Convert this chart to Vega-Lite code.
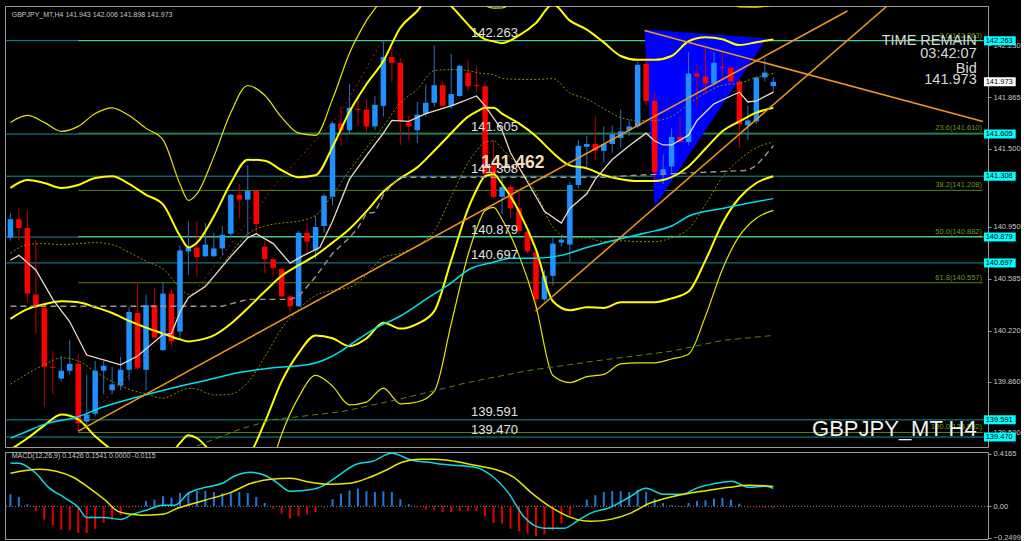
{
"$schema":"https://vega.github.io/schema/vega-lite/v6.json",
"background":"#000000",
"padding":{"left":4,"top":5,"right":0,"bottom":0},
"autosize":{"type":"pad"},
"bounds":"flush",
"spacing":5,
"config":{"view":{"stroke":"#9a9a9a","strokeWidth":1},"font":"Liberation Sans",
 "axis":{"labelColor":"#c8c8c8","labelFontSize":7.5,"labelFont":"Liberation Sans","domain":false,"ticks":true,"tickSize":3,"tickColor":"#9a9a9a","labelPadding":2,"grid":false,"labelOverlap":false,"labelFlush":false,"labelBaseline":"middle","zindex":1}},
"datasets":{
"candles":[
{"i":0,"o":140.875,"h":141.046,"l":140.854,"c":141.005},
{"i":1,"o":141.005,"h":141.081,"l":140.854,"c":140.943},
{"i":2,"o":140.943,"h":141.067,"l":140.419,"c":140.481},
{"i":3,"o":140.474,"h":140.861,"l":140.199,"c":140.385},
{"i":4,"o":140.378,"h":140.426,"l":139.683,"c":139.965},
{"i":5,"o":139.965,"h":140.075,"l":139.772,"c":139.958},
{"i":6,"o":139.882,"h":140.041,"l":139.862,"c":139.937},
{"i":7,"o":139.937,"h":140.151,"l":139.910,"c":139.986},
{"i":8,"o":139.986,"h":140.055,"l":139.502,"c":139.566},
{"i":9,"o":139.579,"h":139.910,"l":139.531,"c":139.628},
{"i":10,"o":139.635,"h":140.006,"l":139.614,"c":139.937},
{"i":11,"o":139.937,"h":140.006,"l":139.772,"c":139.972},
{"i":12,"o":139.800,"h":139.965,"l":139.772,"c":139.841},
{"i":13,"o":139.834,"h":140.034,"l":139.800,"c":139.944},
{"i":14,"o":139.944,"h":140.385,"l":139.869,"c":140.351},
{"i":15,"o":140.344,"h":140.564,"l":139.944,"c":139.958},
{"i":16,"o":139.944,"h":140.474,"l":139.800,"c":140.399},
{"i":17,"o":140.399,"h":140.523,"l":140.165,"c":140.172},
{"i":18,"o":140.082,"h":140.557,"l":140.075,"c":140.481},
{"i":19,"o":140.481,"h":140.509,"l":140.110,"c":140.144},
{"i":20,"o":140.213,"h":140.819,"l":140.165,"c":140.785},
{"i":21,"o":140.778,"h":140.991,"l":140.613,"c":140.805},
{"i":22,"o":140.805,"h":140.991,"l":140.599,"c":140.737},
{"i":23,"o":140.744,"h":140.978,"l":140.737,"c":140.826},
{"i":24,"o":140.744,"h":140.910,"l":140.737,"c":140.799},
{"i":25,"o":140.799,"h":140.957,"l":140.750,"c":140.895},
{"i":26,"o":140.902,"h":141.184,"l":140.875,"c":141.177},
{"i":27,"o":141.177,"h":141.253,"l":141.012,"c":141.143},
{"i":28,"o":141.143,"h":141.384,"l":140.867,"c":141.205},
{"i":29,"o":141.205,"h":141.212,"l":140.902,"c":140.971},
{"i":30,"o":140.812,"h":140.854,"l":140.626,"c":140.723},
{"i":31,"o":140.723,"h":140.737,"l":140.599,"c":140.661},
{"i":32,"o":140.654,"h":140.668,"l":140.454,"c":140.461},
{"i":33,"o":140.461,"h":140.468,"l":140.351,"c":140.392},
{"i":34,"o":140.392,"h":140.922,"l":140.385,"c":140.909},
{"i":35,"o":140.909,"h":140.978,"l":140.764,"c":140.847},
{"i":36,"o":140.785,"h":141.026,"l":140.723,"c":140.950},
{"i":37,"o":140.957,"h":141.184,"l":140.909,"c":141.170},
{"i":38,"o":141.163,"h":141.694,"l":141.101,"c":141.680},
{"i":39,"o":141.680,"h":141.797,"l":141.522,"c":141.632},
{"i":40,"o":141.632,"h":141.955,"l":141.611,"c":141.790},
{"i":41,"o":141.783,"h":141.873,"l":141.659,"c":141.776},
{"i":42,"o":141.776,"h":141.852,"l":141.611,"c":141.659},
{"i":43,"o":141.659,"h":141.873,"l":141.632,"c":141.811},
{"i":44,"o":141.804,"h":142.263,"l":141.728,"c":142.148},
{"i":45,"o":142.148,"h":142.210,"l":141.976,"c":142.107},
{"i":46,"o":142.107,"h":142.141,"l":141.528,"c":141.694},
{"i":47,"o":141.687,"h":141.735,"l":141.563,"c":141.659},
{"i":48,"o":141.632,"h":141.831,"l":141.542,"c":141.742},
{"i":49,"o":141.749,"h":141.955,"l":141.728,"c":141.825},
{"i":50,"o":141.825,"h":142.231,"l":141.797,"c":141.949},
{"i":51,"o":141.949,"h":141.976,"l":141.797,"c":141.804},
{"i":52,"o":141.804,"h":142.169,"l":141.783,"c":141.887},
{"i":53,"o":141.873,"h":142.093,"l":141.866,"c":142.086},
{"i":54,"o":142.038,"h":142.128,"l":141.907,"c":141.942},
{"i":55,"o":141.949,"h":142.086,"l":141.900,"c":141.942},
{"i":56,"o":141.942,"h":141.969,"l":141.301,"c":141.322},
{"i":57,"o":141.384,"h":141.563,"l":141.150,"c":141.163},
{"i":58,"o":141.163,"h":141.301,"l":141.040,"c":141.232},
{"i":59,"o":141.232,"h":141.246,"l":141.012,"c":141.081},
{"i":60,"o":141.081,"h":141.198,"l":140.902,"c":140.922},
{"i":61,"o":140.916,"h":140.936,"l":140.764,"c":140.778},
{"i":62,"o":140.771,"h":140.799,"l":140.351,"c":140.440},
{"i":63,"o":140.440,"h":140.647,"l":140.426,"c":140.606},
{"i":64,"o":140.606,"h":140.881,"l":140.537,"c":140.833},
{"i":65,"o":140.840,"h":140.881,"l":140.812,"c":140.861},
{"i":66,"o":140.826,"h":141.267,"l":140.702,"c":141.246},
{"i":67,"o":141.246,"h":141.563,"l":141.219,"c":141.522},
{"i":68,"o":141.515,"h":141.590,"l":141.356,"c":141.535},
{"i":69,"o":141.535,"h":141.728,"l":141.418,"c":141.487},
{"i":70,"o":141.487,"h":141.659,"l":141.405,"c":141.535},
{"i":71,"o":141.535,"h":141.666,"l":141.473,"c":141.604},
{"i":72,"o":141.577,"h":141.776,"l":141.508,"c":141.625},
{"i":73,"o":141.632,"h":141.701,"l":141.590,"c":141.659},
{"i":74,"o":141.659,"h":142.114,"l":141.646,"c":142.093},
{"i":75,"o":142.100,"h":142.141,"l":141.804,"c":141.838},
{"i":76,"o":141.838,"h":141.907,"l":141.281,"c":141.336},
{"i":77,"o":141.329,"h":141.460,"l":141.253,"c":141.356},
{"i":78,"o":141.377,"h":141.646,"l":141.336,"c":141.584},
{"i":79,"o":141.584,"h":141.735,"l":141.542,"c":141.549},
{"i":80,"o":141.549,"h":142.183,"l":141.528,"c":142.031},
{"i":81,"o":142.031,"h":142.093,"l":141.804,"c":142.011},
{"i":82,"o":142.011,"h":142.210,"l":141.887,"c":141.962},
{"i":83,"o":141.962,"h":142.183,"l":141.942,"c":142.107},
{"i":84,"o":142.079,"h":142.176,"l":141.990,"c":142.072},
{"i":85,"o":142.072,"h":142.079,"l":141.976,"c":141.976},
{"i":86,"o":141.976,"h":141.990,"l":141.508,"c":141.673},
{"i":87,"o":141.666,"h":141.804,"l":141.563,"c":141.701},
{"i":88,"o":141.694,"h":142.011,"l":141.673,"c":142.004},
{"i":89,"o":142.004,"h":142.141,"l":141.976,"c":142.038},
{"i":90,"o":141.943,"h":142.006,"l":141.898,"c":141.973}
],
"bb":[
{"i":0,"m":140.303,"u1":140.764,"l1":139.842,"u2":141.225,"l2":139.381,"u3":141.686,"l3":138.920},
{"i":2,"m":140.371,"u1":140.826,"l1":139.916,"u2":141.281,"l2":139.461,"u3":141.736,"l3":139.006},
{"i":4,"m":140.406,"u1":140.833,"l1":139.979,"u2":141.260,"l2":139.552,"u3":141.687,"l3":139.125},
{"i":6,"m":140.427,"u1":140.826,"l1":140.028,"u2":141.225,"l2":139.629,"u3":141.624,"l3":139.230},
{"i":8,"m":140.420,"u1":140.833,"l1":140.007,"u2":141.246,"l2":139.594,"u3":141.659,"l3":139.181},
{"i":10,"m":140.385,"u1":140.840,"l1":139.930,"u2":141.295,"l2":139.475,"u3":141.750,"l3":139.020},
{"i":12,"m":140.344,"u1":140.826,"l1":139.862,"u2":141.308,"l2":139.380,"u3":141.790,"l3":138.898},
{"i":14,"m":140.289,"u1":140.771,"l1":139.807,"u2":141.253,"l2":139.325,"u3":141.735,"l3":138.843},
{"i":16,"m":140.241,"u1":140.709,"l1":139.773,"u2":141.177,"l2":139.305,"u3":141.645,"l3":138.837},
{"i":18,"m":140.199,"u1":140.654,"l1":139.744,"u2":141.109,"l2":139.289,"u3":141.564,"l3":138.834},
{"i":20,"m":140.158,"u1":140.523,"l1":139.793,"u2":140.888,"l2":139.428,"u3":141.253,"l3":139.063},
{"i":21,"m":140.144,"u1":140.475,"l1":139.813,"u2":140.806,"l2":139.482,"u3":141.137,"l3":139.151},
{"i":22,"m":140.151,"u1":140.495,"l1":139.807,"u2":140.839,"l2":139.463,"u3":141.183,"l3":139.119},
{"i":24,"m":140.186,"u1":140.606,"l1":139.766,"u2":141.026,"l2":139.346,"u3":141.446,"l3":138.926},
{"i":26,"m":140.268,"u1":140.764,"l1":139.772,"u2":141.260,"l2":139.276,"u3":141.756,"l3":138.780},
{"i":28,"m":140.378,"u1":140.901,"l1":139.855,"u2":141.424,"l2":139.332,"u3":141.947,"l3":138.809},
{"i":30,"m":140.495,"u1":140.956,"l1":140.034,"u2":141.417,"l2":139.573,"u3":141.878,"l3":139.112},
{"i":32,"m":140.606,"u1":140.978,"l1":140.234,"u2":141.350,"l2":139.862,"u3":141.722,"l3":139.490},
{"i":34,"m":140.681,"u1":140.991,"l1":140.371,"u2":141.301,"l2":140.061,"u3":141.611,"l3":139.751},
{"i":36,"m":140.750,"u1":141.032,"l1":140.468,"u2":141.314,"l2":140.186,"u3":141.596,"l3":139.904},
{"i":38,"m":140.840,"u1":141.177,"l1":140.503,"u2":141.514,"l2":140.166,"u3":141.851,"l3":139.829},
{"i":40,"m":140.936,"u1":141.349,"l1":140.523,"u2":141.762,"l2":140.110,"u3":142.175,"l3":139.697},
{"i":42,"m":141.060,"u1":141.508,"l1":140.612,"u2":141.956,"l2":140.164,"u3":142.404,"l3":139.716},
{"i":44,"m":141.198,"u1":141.659,"l1":140.737,"u2":142.120,"l2":140.276,"u3":142.581,"l3":139.815},
{"i":46,"m":141.294,"u1":141.824,"l1":140.764,"u2":142.354,"l2":140.234,"u3":142.884,"l3":139.704},
{"i":48,"m":141.370,"u1":141.921,"l1":140.819,"u2":142.472,"l2":140.268,"u3":143.023,"l3":139.717},
{"i":50,"m":141.487,"u1":142.052,"l1":140.922,"u2":142.617,"l2":140.357,"u3":143.182,"l3":139.792},
{"i":52,"m":141.611,"u1":142.059,"l1":141.163,"u2":142.507,"l2":140.715,"u3":142.955,"l3":140.267},
{"i":54,"m":141.728,"u1":142.052,"l1":141.404,"u2":142.376,"l2":141.080,"u3":142.700,"l3":140.756},
{"i":55,"m":141.763,"u1":142.038,"l1":141.488,"u2":142.313,"l2":141.213,"u3":142.588,"l3":140.938},
{"i":56,"m":141.790,"u1":142.031,"l1":141.549,"u2":142.272,"l2":141.308,"u3":142.513,"l3":141.067},
{"i":57,"m":141.790,"u1":142.024,"l1":141.556,"u2":142.258,"l2":141.322,"u3":142.492,"l3":141.088},
{"i":58,"m":141.749,"u1":141.997,"l1":141.501,"u2":142.245,"l2":141.253,"u3":142.493,"l3":141.005},
{"i":60,"m":141.680,"u1":141.990,"l1":141.370,"u2":142.300,"l2":141.060,"u3":142.610,"l3":140.750},
{"i":62,"m":141.590,"u1":141.989,"l1":141.191,"u2":142.388,"l2":140.792,"u3":142.787,"l3":140.393},
{"i":64,"m":141.473,"u1":141.996,"l1":140.950,"u2":142.519,"l2":140.427,"u3":143.042,"l3":139.904},
{"i":66,"m":141.384,"u1":141.894,"l1":140.874,"u2":142.404,"l2":140.364,"u3":142.914,"l3":139.854},
{"i":68,"m":141.363,"u1":141.852,"l1":140.874,"u2":142.341,"l2":140.385,"u3":142.830,"l3":139.896},
{"i":70,"m":141.315,"u1":141.783,"l1":140.847,"u2":142.251,"l2":140.379,"u3":142.719,"l3":139.911},
{"i":72,"m":141.287,"u1":141.721,"l1":140.853,"u2":142.155,"l2":140.419,"u3":142.589,"l3":139.985},
{"i":74,"m":141.274,"u1":141.701,"l1":140.847,"u2":142.128,"l2":140.420,"u3":142.555,"l3":139.993},
{"i":76,"m":141.274,"u1":141.701,"l1":140.847,"u2":142.128,"l2":140.420,"u3":142.555,"l3":139.993},
{"i":78,"m":141.301,"u1":141.728,"l1":140.874,"u2":142.155,"l2":140.447,"u3":142.582,"l3":140.020},
{"i":80,"m":141.377,"u1":141.818,"l1":140.936,"u2":142.259,"l2":140.495,"u3":142.700,"l3":140.054},
{"i":82,"m":141.501,"u1":141.894,"l1":141.108,"u2":142.287,"l2":140.715,"u3":142.680,"l3":140.322},
{"i":84,"m":141.625,"u1":141.949,"l1":141.301,"u2":142.273,"l2":140.977,"u3":142.597,"l3":140.653},
{"i":86,"m":141.694,"u1":141.963,"l1":141.425,"u2":142.232,"l2":141.156,"u3":142.501,"l3":140.887},
{"i":88,"m":141.756,"u1":142.004,"l1":141.508,"u2":142.252,"l2":141.260,"u3":142.500,"l3":141.012},
{"i":90,"m":141.790,"u1":142.031,"l1":141.549,"u2":142.272,"l2":141.308,"u3":142.513,"l3":141.067}
],
"wma":[{"i":0,"v":140.716},{"i":1,"v":140.750},{"i":3,"v":140.647},{"i":5,"v":140.440},{"i":7,"v":140.282},{"i":9,"v":140.048},{"i":11,"v":140.013},{"i":13,"v":139.979},{"i":15,"v":140.041},{"i":18,"v":140.192},{"i":19,"v":140.199},{"i":20,"v":140.351},{"i":21,"v":140.454},{"i":23,"v":140.530},{"i":26,"v":140.743},{"i":28,"v":140.874},{"i":29,"v":140.902},{"i":31,"v":140.833},{"i":33,"v":140.695},{"i":34.6,"v":140.750},{"i":36.5,"v":140.805},{"i":38,"v":140.991},{"i":40,"v":141.287},{"i":42,"v":141.453},{"i":44,"v":141.611},{"i":45,"v":141.701},{"i":47,"v":141.694},{"i":49,"v":141.749},{"i":52,"v":141.804},{"i":55,"v":141.873},{"i":56,"v":141.804},{"i":58,"v":141.632},{"i":59,"v":141.473},{"i":61,"v":141.267},{"i":63,"v":141.060},{"i":65,"v":140.978},{"i":66,"v":141.081},{"i":68,"v":141.184},{"i":69,"v":141.287},{"i":71,"v":141.425},{"i":73,"v":141.522},{"i":75,"v":141.611},{"i":76,"v":141.556},{"i":77,"v":141.528},{"i":78,"v":141.528},{"i":80,"v":141.597},{"i":81,"v":141.701},{"i":83,"v":141.818},{"i":85,"v":141.873},{"i":86,"v":141.900},{"i":87,"v":141.831},{"i":88,"v":141.838},{"i":90,"v":141.900}],
"cma":[{"i":0,"v":139.462},{"i":2,"v":139.511},{"i":4,"v":139.559},{"i":8,"v":139.614},{"i":11,"v":139.683},{"i":15,"v":139.752},{"i":19,"v":139.814},{"i":23,"v":139.869},{"i":27,"v":139.924},{"i":31,"v":139.958},{"i":35,"v":139.979},{"i":37,"v":140.013},{"i":39,"v":140.075},{"i":40,"v":140.117},{"i":43,"v":140.234},{"i":46,"v":140.323},{"i":49,"v":140.440},{"i":52,"v":140.557},{"i":54,"v":140.647},{"i":57,"v":140.702},{"i":59,"v":140.730},{"i":62,"v":140.730},{"i":65,"v":140.750},{"i":68,"v":140.805},{"i":72,"v":140.867},{"i":75,"v":140.909},{"i":78,"v":140.957},{"i":80,"v":141.026},{"i":84,"v":141.081},{"i":90,"v":141.150}],
"gma":[{"i":22,"v":139.407},{"i":27,"v":139.524},{"i":31,"v":139.593},{"i":39,"v":139.648},{"i":46,"v":139.738},{"i":54,"v":139.855},{"i":61,"v":139.938},{"i":69,"v":140.006},{"i":78,"v":140.075},{"i":84,"v":140.151},{"i":90,"v":140.186}],
"kij":[{"i":0,"v":140.392},{"i":25,"v":140.392},{"i":28,"v":140.440},{"i":33,"v":140.440},{"i":34,"v":140.461},{"i":36,"v":140.599},{"i":38,"v":140.764},{"i":40,"v":140.874},{"i":41,"v":140.943},{"i":42,"v":141.046},{"i":43,"v":141.053},{"i":44,"v":141.177},{"i":45,"v":141.246},{"i":46,"v":141.301},{"i":70,"v":141.301},{"i":74,"v":141.315},{"i":87,"v":141.349},{"i":88,"v":141.384},{"i":89,"v":141.450},{"i":90,"v":141.522}],
"rdot":[{"i":8.5,"v":139.566},{"i":15.9,"v":140.027},{"i":21.7,"v":140.488},{"i":31.4,"v":141.260},{"i":38.9,"v":141.749},{"i":43.9,"v":142.265}],
"trend":[{"line":"a","i":8.01,"v":139.511},{"line":"a","i":98.74,"v":142.472},{"line":"b","i":61.96,"v":140.358},{"line":"b","i":103.4,"v":142.506},{"line":"c","i":74.8,"v":142.334},{"line":"c","i":114.74,"v":141.694}],
"tri":[{"i":74.8,"top":142.341,"bot":142.341},{"i":76.0,"top":142.336,"bot":141.095},{"i":89.2,"top":142.279,"bot":142.279}],
"levels":[{"p":142.263,"t":"142.263"},{"p":141.605,"t":"141.605"},{"p":141.308,"t":"141.308"},{"p":140.879,"t":"140.879"},{"p":140.697,"t":"140.697"},{"p":139.591,"t":"139.591"},{"p":139.470,"t":"139.470"}],
"fib":[{"p":142.263,"t":"0.0(142.263)","g":"a"},{"p":141.611,"t":"23.6(141.610)","g":"b"},{"p":141.208,"t":"38.2(141.208)","g":"c"},{"p":140.882,"t":"50.0(140.882)","g":"a"},{"p":140.557,"t":"61.8(140.557)","g":"c"},{"p":139.502,"t":"100.0(139.502)","g":"c"}],
"info":[{"p":142.258,"t":"TIME REMAIN"},{"p":142.169,"t":"03:42:07"},{"p":142.066,"t":"Bid"},{"p":141.983,"t":"141.973"}],
"hist":[{"i":0,"h":0.096},{"i":1,"h":0.074},{"i":2,"h":0.016},{"i":3,"h":-0.037},{"i":4,"h":-0.106},{"i":5,"h":-0.151},{"i":6,"h":-0.186},{"i":7,"h":-0.191},{"i":8,"h":-0.212},{"i":9,"h":-0.212},{"i":10,"h":-0.178},{"i":11,"h":-0.133},{"i":12,"h":-0.106},{"i":13,"h":-0.072},{"i":14,"h":-0.011},{"i":15,"h":-0.005},{"i":16,"h":0.042},{"i":17,"h":0.053},{"i":18,"h":0.080},{"i":19,"h":0.069},{"i":20,"h":0.106},{"i":21,"h":0.114},{"i":22,"h":0.122},{"i":23,"h":0.122},{"i":24,"h":0.114},{"i":25,"h":0.106},{"i":26,"h":0.114},{"i":27,"h":0.114},{"i":28,"h":0.106},{"i":29,"h":0.074},{"i":30,"h":0.026},{"i":31,"h":-0.019},{"i":32,"h":-0.058},{"i":33,"h":-0.098},{"i":34,"h":-0.080},{"i":35,"h":-0.064},{"i":36,"h":-0.045},{"i":37,"h":-0.011},{"i":38,"h":0.056},{"i":39,"h":0.101},{"i":40,"h":0.127},{"i":41,"h":0.141},{"i":42,"h":0.122},{"i":43,"h":0.114},{"i":44,"h":0.119},{"i":45,"h":0.114},{"i":46,"h":0.056},{"i":47,"h":0.016},{"i":48,"h":-0.011},{"i":49,"h":-0.027},{"i":50,"h":-0.032},{"i":51,"h":-0.045},{"i":52,"h":-0.045},{"i":53,"h":-0.037},{"i":54,"h":-0.037},{"i":55,"h":-0.037},{"i":56,"h":-0.080},{"i":57,"h":-0.133},{"i":58,"h":-0.138},{"i":59,"h":-0.178},{"i":60,"h":-0.197},{"i":61,"h":-0.217},{"i":62,"h":-0.239},{"i":63,"h":-0.223},{"i":64,"h":-0.191},{"i":65,"h":-0.138},{"i":66,"h":-0.072},{"i":67,"h":-0.005},{"i":68,"h":0.053},{"i":69,"h":0.088},{"i":70,"h":0.114},{"i":71,"h":0.122},{"i":72,"h":0.122},{"i":73,"h":0.114},{"i":74,"h":0.133},{"i":75,"h":0.114},{"i":76,"h":0.061},{"i":77,"h":0.026},{"i":78,"h":0.008},{"i":79,"h":-0.005},{"i":80,"h":0.026},{"i":81,"h":0.042},{"i":82,"h":0.048},{"i":83,"h":0.061},{"i":84,"h":0.066},{"i":85,"h":0.053},{"i":86,"h":0.021},{"i":87,"h":-0.011},{"i":88,"h":-0.011},{"i":89,"h":-0.011},{"i":90,"h":-0.0115}],
"macd":[{"i":0,"v":0.345},{"i":1,"v":0.342},{"i":3,"v":0.263},{"i":4.5,"v":0.151},{"i":6.5,"v":0.064},{"i":8,"v":-0.008},{"i":9,"v":-0.088},{"i":11,"v":-0.088},{"i":13,"v":-0.104},{"i":14.4,"v":-0.064},{"i":16,"v":-0.032},{"i":18,"v":0.008},{"i":19.4,"v":0.008},{"i":21,"v":0.104},{"i":23,"v":0.151},{"i":25,"v":0.183},{"i":26.4,"v":0.239},{"i":28.4,"v":0.271},{"i":30,"v":0.247},{"i":31.4,"v":0.191},{"i":33,"v":0.119},{"i":35.7,"v":0.135},{"i":37,"v":0.167},{"i":38.4,"v":0.231},{"i":40.8,"v":0.334},{"i":42.7,"v":0.358},{"i":45,"v":0.422},{"i":47.4,"v":0.366},{"i":49.4,"v":0.350},{"i":51,"v":0.334},{"i":52.4,"v":0.326},{"i":54.8,"v":0.311},{"i":56.7,"v":0.247},{"i":58.7,"v":0.111},{"i":60.6,"v":-0.085},{"i":63,"v":-0.175},{"i":65.3,"v":-0.175},{"i":67,"v":-0.111},{"i":68.4,"v":-0.056},{"i":70.8,"v":-0.008},{"i":73,"v":0.072},{"i":75,"v":0.143},{"i":77,"v":0.096},{"i":79.3,"v":0.096},{"i":80.9,"v":0.143},{"i":84,"v":0.191},{"i":85.1,"v":0.199},{"i":87.1,"v":0.151},{"i":89.1,"v":0.159},{"i":90,"v":0.143}],
"sig":[{"i":0,"v":0.263},{"i":2,"v":0.287},{"i":3.4,"v":0.295},{"i":5.4,"v":0.279},{"i":7.4,"v":0.231},{"i":9.2,"v":0.151},{"i":11.2,"v":0.048},{"i":12.7,"v":-0.040},{"i":14.4,"v":-0.064},{"i":15.5,"v":-0.072},{"i":17.9,"v":-0.064},{"i":19.7,"v":-0.016},{"i":22.9,"v":0.048},{"i":26,"v":0.111},{"i":28.4,"v":0.183},{"i":30.7,"v":0.215},{"i":33,"v":0.223},{"i":35.4,"v":0.191},{"i":37.7,"v":0.175},{"i":40,"v":0.183},{"i":42.4,"v":0.231},{"i":44.3,"v":0.287},{"i":46.2,"v":0.350},{"i":48.2,"v":0.374},{"i":50.1,"v":0.374},{"i":52.4,"v":0.358},{"i":54.8,"v":0.326},{"i":57.1,"v":0.295},{"i":59.4,"v":0.231},{"i":61.4,"v":0.111},{"i":63.8,"v":-0.008},{"i":66.1,"v":-0.088},{"i":68.4,"v":-0.119},{"i":70.8,"v":-0.104},{"i":73.1,"v":-0.056},{"i":75.4,"v":0.024},{"i":77.8,"v":0.072},{"i":80.1,"v":0.104},{"i":82.4,"v":0.127},{"i":84.8,"v":0.151},{"i":87.1,"v":0.167},{"i":90,"v":0.158}]
},
"vconcat":[
{
"width":983,"height":441,
"layer":[
{"data":{"name":"levels"},"mark":{"type":"rule","color":"#16909a","strokeWidth":1,"clip":true},
 "encoding":{"y":{"field":"p","type":"quantitative","title":null,"scale":{"domain":[139.435,142.472],"nice":false,"zero":false},
 "axis":{"orient":"right","title":null,"values":[142.41,142.23,142.045,141.865,141.68,141.5,141.135,140.95,140.77,140.585,140.4,140.22,140.04,139.86,139.68,139.5],"format":".3f","labelOverlap":false,"labelFlush":false,"labelSeparation":0}}}},
{"data":{"name":"fib"},"mark":{"type":"rule","strokeWidth":1,"clip":true},
 "encoding":{"x":{"datum":8.01,"type":"quantitative","scale":{"domain":[-0.05,114.74],"nice":false,"zero":false},"axis":null},"x2":{"datum":114.74},
 "y":{"field":"p","type":"quantitative","title":null,"scale":{"domain":[139.435,142.472],"nice":false,"zero":false}},
 "color":{"field":"g","type":"nominal","scale":{"domain":["a","b","c"],"range":["#55e08a","#3c9a3c","#5a8010"]},"legend":null}}},
{"data":{"name":"tri"},"mark":{"type":"area","color":"#0000ff","opacity":1,"clip":true},
 "encoding":{"x":{"field":"i","type":"quantitative","scale":{"domain":[-0.05,114.74],"nice":false,"zero":false},"axis":null},
 "y":{"field":"top","type":"quantitative","title":null,"scale":{"domain":[139.435,142.472],"nice":false,"zero":false}},"y2":{"field":"bot"}}},
{"data":{"name":"candles"},"mark":{"type":"rule","strokeWidth":1,"clip":true},
 "encoding":{"x":{"field":"i","type":"quantitative","scale":{"domain":[-0.05,114.74],"nice":false,"zero":false},"axis":null},
 "y":{"field":"l","type":"quantitative","title":null,"scale":{"domain":[139.435,142.472],"nice":false,"zero":false}},"y2":{"field":"h"},
 "color":{"condition":{"test":"datum.c >= datum.o","value":"#2a6fc0"},"value":"#c00000"}}},
{"data":{"name":"candles"},"mark":{"type":"bar","size":5.5,"clip":true},
 "encoding":{"x":{"field":"i","type":"quantitative","scale":{"domain":[-0.05,114.74],"nice":false,"zero":false},"axis":null},
 "y":{"field":"o","type":"quantitative","title":null,"scale":{"domain":[139.435,142.472],"nice":false,"zero":false}},"y2":{"field":"c"},
 "color":{"condition":{"test":"datum.c >= datum.o","value":"#1e90ff"},"value":"#ff0000"}}},
{"data":{"name":"bb"},"mark":{"type":"line","color":"#e6e600","strokeWidth":1.2,"interpolate":"monotone","clip":true},
 "encoding":{"x":{"field":"i","type":"quantitative","scale":{"domain":[-0.05,114.74],"nice":false,"zero":false},"axis":null},
 "y":{"field":"u3","type":"quantitative","title":null,"scale":{"domain":[139.435,142.472],"nice":false,"zero":false}}}},
{"data":{"name":"bb"},"mark":{"type":"line","color":"#e6e600","strokeWidth":1.2,"interpolate":"monotone","clip":true},
 "encoding":{"x":{"field":"i","type":"quantitative","scale":{"domain":[-0.05,114.74],"nice":false,"zero":false},"axis":null},
 "y":{"field":"l3","type":"quantitative","title":null,"scale":{"domain":[139.435,142.472],"nice":false,"zero":false}}}},
{"data":{"name":"bb"},"mark":{"type":"line","color":"#ffff00","strokeWidth":2,"interpolate":"monotone","clip":true},
 "encoding":{"x":{"field":"i","type":"quantitative","scale":{"domain":[-0.05,114.74],"nice":false,"zero":false},"axis":null},
 "y":{"field":"u2","type":"quantitative","title":null,"scale":{"domain":[139.435,142.472],"nice":false,"zero":false}}}},
{"data":{"name":"bb"},"mark":{"type":"line","color":"#ffff00","strokeWidth":2,"interpolate":"monotone","clip":true},
 "encoding":{"x":{"field":"i","type":"quantitative","scale":{"domain":[-0.05,114.74],"nice":false,"zero":false},"axis":null},
 "y":{"field":"l2","type":"quantitative","title":null,"scale":{"domain":[139.435,142.472],"nice":false,"zero":false}}}},
{"data":{"name":"bb"},"mark":{"type":"line","color":"#ffff00","strokeWidth":2,"interpolate":"monotone","clip":true},
 "encoding":{"x":{"field":"i","type":"quantitative","scale":{"domain":[-0.05,114.74],"nice":false,"zero":false},"axis":null},
 "y":{"field":"m","type":"quantitative","title":null,"scale":{"domain":[139.435,142.472],"nice":false,"zero":false}}}},
{"data":{"name":"bb"},"mark":{"type":"line","color":"#8a8a00","strokeWidth":1,"strokeDash":[2,2],"interpolate":"monotone","clip":true},
 "encoding":{"x":{"field":"i","type":"quantitative","scale":{"domain":[-0.05,114.74],"nice":false,"zero":false},"axis":null},
 "y":{"field":"u1","type":"quantitative","title":null,"scale":{"domain":[139.435,142.472],"nice":false,"zero":false}}}},
{"data":{"name":"bb"},"mark":{"type":"line","color":"#8a8a00","strokeWidth":1,"strokeDash":[2,2],"interpolate":"monotone","clip":true},
 "encoding":{"x":{"field":"i","type":"quantitative","scale":{"domain":[-0.05,114.74],"nice":false,"zero":false},"axis":null},
 "y":{"field":"l1","type":"quantitative","title":null,"scale":{"domain":[139.435,142.472],"nice":false,"zero":false}}}},
{"data":{"name":"gma"},"mark":{"type":"line","color":"#4f8a10","strokeWidth":1,"strokeDash":[6,4],"clip":true},
 "encoding":{"x":{"field":"i","type":"quantitative","scale":{"domain":[-0.05,114.74],"nice":false,"zero":false},"axis":null},
 "y":{"field":"v","type":"quantitative","title":null,"scale":{"domain":[139.435,142.472],"nice":false,"zero":false}}}},
{"data":{"name":"kij"},"mark":{"type":"line","color":"#9c968c","strokeWidth":1.4,"strokeDash":[6,4],"clip":true},
 "encoding":{"x":{"field":"i","type":"quantitative","scale":{"domain":[-0.05,114.74],"nice":false,"zero":false},"axis":null},
 "y":{"field":"v","type":"quantitative","title":null,"scale":{"domain":[139.435,142.472],"nice":false,"zero":false}}}},
{"data":{"name":"rdot"},"mark":{"type":"line","color":"#a02020","strokeWidth":1,"strokeDash":[2,3],"clip":true},
 "encoding":{"x":{"field":"i","type":"quantitative","scale":{"domain":[-0.05,114.74],"nice":false,"zero":false},"axis":null},
 "y":{"field":"v","type":"quantitative","title":null,"scale":{"domain":[139.435,142.472],"nice":false,"zero":false}}}},
{"data":{"name":"cma"},"mark":{"type":"line","color":"#00e0ea","strokeWidth":1.5,"interpolate":"monotone","clip":true},
 "encoding":{"x":{"field":"i","type":"quantitative","scale":{"domain":[-0.05,114.74],"nice":false,"zero":false},"axis":null},
 "y":{"field":"v","type":"quantitative","title":null,"scale":{"domain":[139.435,142.472],"nice":false,"zero":false}}}},
{"data":{"name":"wma"},"mark":{"type":"line","color":"#eadbcb","strokeWidth":1.3,"clip":true},
 "encoding":{"x":{"field":"i","type":"quantitative","scale":{"domain":[-0.05,114.74],"nice":false,"zero":false},"axis":null},
 "y":{"field":"v","type":"quantitative","title":null,"scale":{"domain":[139.435,142.472],"nice":false,"zero":false}}}},
{"data":{"name":"trend"},"mark":{"type":"line","color":"#f0961e","strokeWidth":1.5,"clip":true},
 "encoding":{"x":{"field":"i","type":"quantitative","scale":{"domain":[-0.05,114.74],"nice":false,"zero":false},"axis":null},
 "y":{"field":"v","type":"quantitative","title":null,"scale":{"domain":[139.435,142.472],"nice":false,"zero":false}},"detail":{"field":"line"}}},
{"data":{"name":"levels"},"mark":{"type":"text","color":"#e0e0e0","fontSize":13,"font":"Liberation Sans","align":"center","baseline":"middle","dy":-7.5},
 "encoding":{"x":{"datum":57.1,"type":"quantitative","scale":{"domain":[-0.05,114.74],"nice":false,"zero":false},"axis":null},
 "y":{"field":"p","type":"quantitative","title":null,"scale":{"domain":[139.435,142.472],"nice":false,"zero":false}},"text":{"field":"t"}}},
{"data":{"name":"fib"},"mark":{"type":"text","color":"#6a9a1a","fontSize":7.5,"font":"Liberation Sans","align":"right","baseline":"middle","dy":-5},
 "encoding":{"x":{"datum":114.62,"type":"quantitative","scale":{"domain":[-0.05,114.74],"nice":false,"zero":false},"axis":null},
 "y":{"field":"p","type":"quantitative","title":null,"scale":{"domain":[139.435,142.472],"nice":false,"zero":false}},"text":{"field":"t"}}},
{"data":{"values":[{"i":59.27,"p":141.398,"t":"141.462"}]},"mark":{"type":"text","color":"#f3dcb8","fontSize":17.5,"fontWeight":"bold","font":"Liberation Sans","align":"center","baseline":"middle"},
 "encoding":{"x":{"field":"i","type":"quantitative","scale":{"domain":[-0.05,114.74],"nice":false,"zero":false},"axis":null},
 "y":{"field":"p","type":"quantitative","title":null,"scale":{"domain":[139.435,142.472],"nice":false,"zero":false}},"text":{"field":"t"}}},
{"data":{"name":"info"},"mark":{"type":"text","color":"#d8d8d8","fontSize":14.5,"font":"Liberation Sans","align":"right","baseline":"middle"},
 "encoding":{"x":{"datum":114.0,"type":"quantitative","scale":{"domain":[-0.05,114.74],"nice":false,"zero":false},"axis":null},
 "y":{"field":"p","type":"quantitative","title":null,"scale":{"domain":[139.435,142.472],"nice":false,"zero":false}},"text":{"field":"t"}}},
{"data":{"values":[{"i":114.0,"p":139.524,"t":"GBPJPY_MT H4"}]},"mark":{"type":"text","color":"#f2f2f2","fontSize":22,"font":"Liberation Sans","align":"right","baseline":"middle"},
 "encoding":{"x":{"field":"i","type":"quantitative","scale":{"domain":[-0.05,114.74],"nice":false,"zero":false},"axis":null},
 "y":{"field":"p","type":"quantitative","title":null,"scale":{"domain":[139.435,142.472],"nice":false,"zero":false}},"text":{"field":"t"}}},
{"data":{"values":[{"i":0.15,"p":142.444,"t":"GBPJPY_MT,H4  141.943 142.006 141.898 141.973"}]},"mark":{"type":"text","color":"#c8c8c8","fontSize":7,"font":"Liberation Sans","align":"left","baseline":"middle"},
 "encoding":{"x":{"field":"i","type":"quantitative","scale":{"domain":[-0.05,114.74],"nice":false,"zero":false},"axis":null},
 "y":{"field":"p","type":"quantitative","title":null,"scale":{"domain":[139.435,142.472],"nice":false,"zero":false}},"text":{"field":"t"}}},
{"data":{"name":"levels"},"mark":{"type":"bar","orient":"horizontal","size":9,"color":"#00ffff","clip":false},
 "encoding":{"x":{"datum":114.85,"type":"quantitative","scale":{"domain":[-0.05,114.74],"nice":false,"zero":false},"axis":null},"x2":{"datum":118.6},
 "y":{"field":"p","type":"quantitative","title":null,"scale":{"domain":[139.435,142.472],"nice":false,"zero":false}}}},
{"data":{"values":[{"p":141.973,"t":"141.973"}]},"mark":{"type":"bar","orient":"horizontal","size":9,"color":"#ffffff","clip":false},
 "encoding":{"x":{"datum":114.85,"type":"quantitative","scale":{"domain":[-0.05,114.74],"nice":false,"zero":false},"axis":null},"x2":{"datum":118.6},
 "y":{"field":"p","type":"quantitative","title":null,"scale":{"domain":[139.435,142.472],"nice":false,"zero":false}}}},
{"data":{"values":[{"p":142.263,"t":"142.263"},{"p":141.973,"t":"141.973"},{"p":141.605,"t":"141.605"},{"p":141.308,"t":"141.308"},{"p":140.879,"t":"140.879"},{"p":140.697,"t":"140.697"},{"p":139.591,"t":"139.591"},{"p":139.470,"t":"139.470"}]},
 "mark":{"type":"text","color":"#000000","fontSize":7.5,"font":"Liberation Sans","align":"left","baseline":"middle"},
 "encoding":{"x":{"datum":115.05,"type":"quantitative","scale":{"domain":[-0.05,114.74],"nice":false,"zero":false},"axis":null},
 "y":{"field":"p","type":"quantitative","title":null,"scale":{"domain":[139.435,142.472],"nice":false,"zero":false}},"text":{"field":"t"}}}
]
},
{
"width":983,"height":87,
"layer":[
{"data":{"values":[{"z":0}]},"mark":{"type":"rule","color":"#8c8c8c","strokeDash":[1,2],"strokeWidth":1},
 "encoding":{"y":{"field":"z","type":"quantitative","title":null,"scale":{"domain":[-0.26,0.432],"nice":false,"zero":false},
 "axis":{"orient":"right","title":null,"values":[0.4165,0,-0.2499],"labelExpr":"datum.value == 0 ? '0.00' : format(datum.value, '.4f')","labelOverlap":false,"labelFlush":false}}}},
{"data":{"name":"hist"},"mark":{"type":"bar","size":2,"clip":true},
 "encoding":{"x":{"field":"i","type":"quantitative","scale":{"domain":[-0.05,114.74],"nice":false,"zero":false},"axis":null},
 "y":{"field":"h","type":"quantitative","title":null,"scale":{"domain":[-0.26,0.432],"nice":false,"zero":false}},"y2":{"datum":0},
 "color":{"condition":{"test":"datum.h >= 0","value":"#1e78dc"},"value":"#e00000"}}},
{"data":{"name":"macd"},"mark":{"type":"line","color":"#10d8e0","strokeWidth":1.5,"interpolate":"monotone","clip":true},
 "encoding":{"x":{"field":"i","type":"quantitative","scale":{"domain":[-0.05,114.74],"nice":false,"zero":false},"axis":null},
 "y":{"field":"v","type":"quantitative","title":null,"scale":{"domain":[-0.26,0.432],"nice":false,"zero":false}}}},
{"data":{"name":"sig"},"mark":{"type":"line","color":"#e6e600","strokeWidth":1.5,"interpolate":"monotone","clip":true},
 "encoding":{"x":{"field":"i","type":"quantitative","scale":{"domain":[-0.05,114.74],"nice":false,"zero":false},"axis":null},
 "y":{"field":"v","type":"quantitative","title":null,"scale":{"domain":[-0.26,0.432],"nice":false,"zero":false}}}},
{"data":{"values":[{"i":0.15,"v":0.4,"t":"MACD(12,26,9) 0.1426 0.1541 0.0000 -0.0115"}]},"mark":{"type":"text","color":"#c8c8c8","fontSize":7,"font":"Liberation Sans","align":"left","baseline":"middle"},
 "encoding":{"x":{"field":"i","type":"quantitative","scale":{"domain":[-0.05,114.74],"nice":false,"zero":false},"axis":null},
 "y":{"field":"v","type":"quantitative","title":null,"scale":{"domain":[-0.26,0.432],"nice":false,"zero":false}},"text":{"field":"t"}}}
]
}
]
}
